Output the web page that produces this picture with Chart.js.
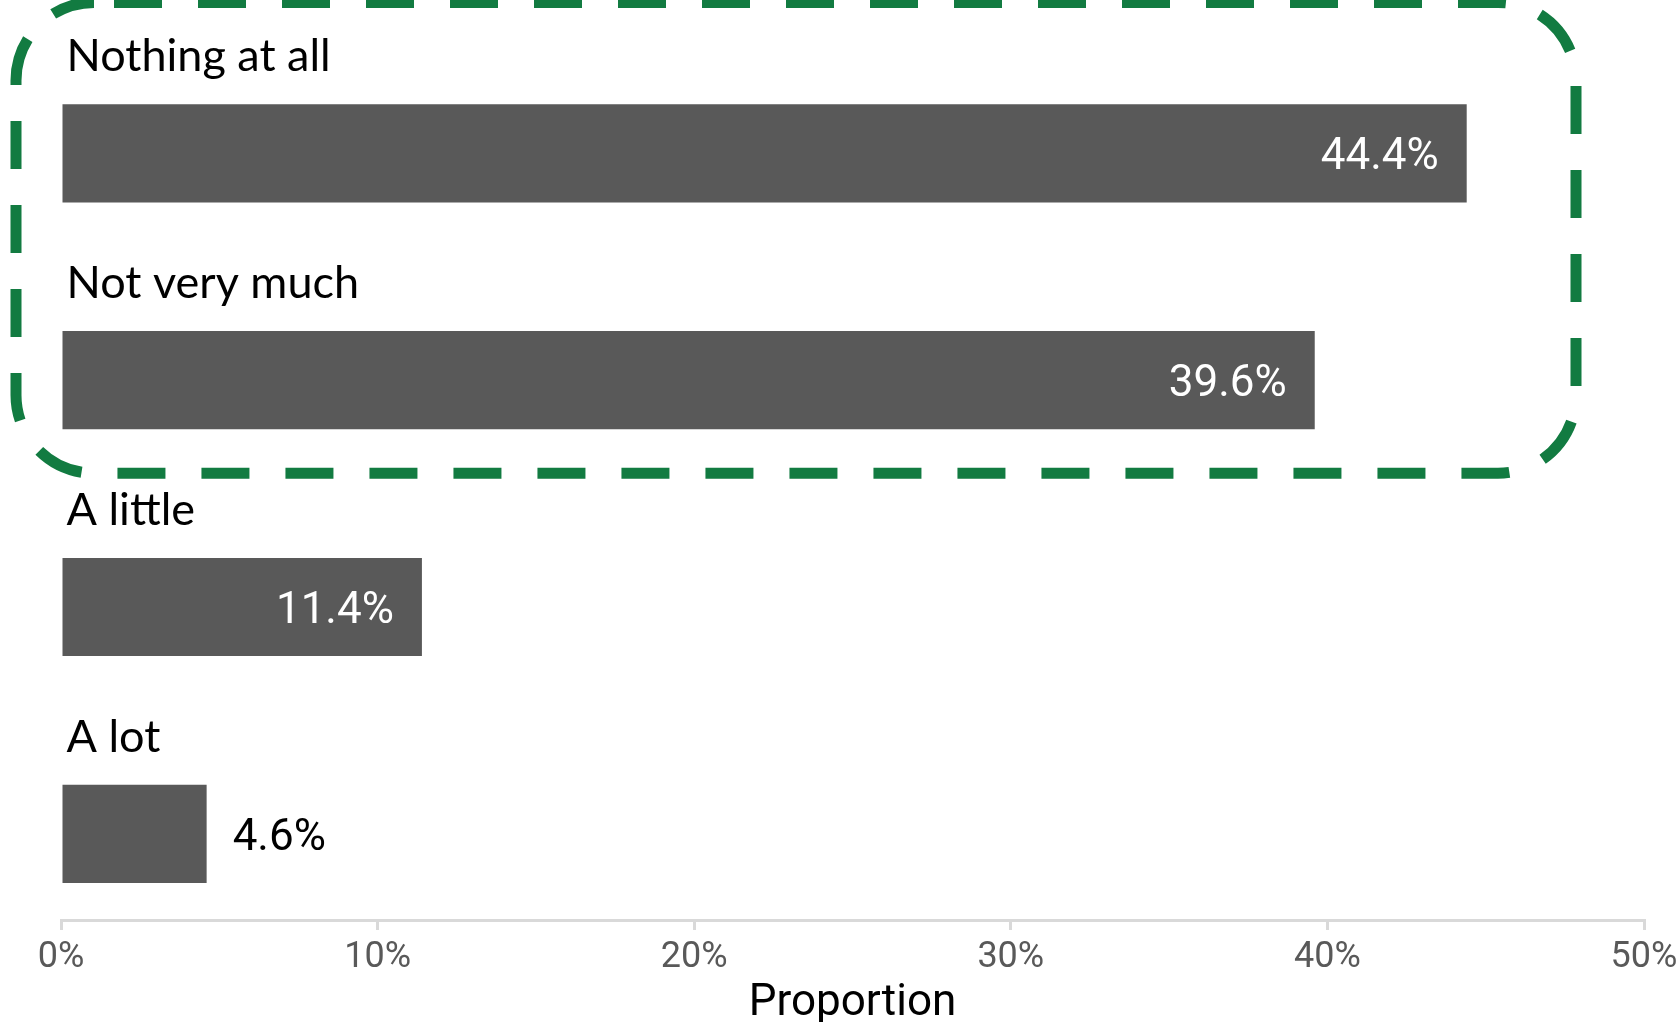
<!DOCTYPE html>
<html>
<head>
<meta charset="utf-8">
<title>Proportion</title>
<script src="https://cdn.jsdelivr.net/npm/chart.js@4"></script>
<style>
  html, body { margin: 0; padding: 0; background: #fff; }
  #wrap { width: 1680px; height: 1022px; position: relative; }
</style>
</head>
<body>
<div id="wrap"><canvas id="chart"></canvas></div>
<script>
"use strict";

// answers, top to bottom, and their share (%)
const CATEGORIAS = ["Nothing at all", "Not very much", "A little", "A lot"];
const VALORES = [44.4, 39.6, 11.4, 4.6];
const TICKS_X = [0, 10, 20, 30, 40, 50];
const TITULO_X = "Proportion";
// the first answers are framed by the green dashed box
const DESTAQUE = 2;

const CINZA = "#595959";
const VERDE = "#127b41";
const EIXO = "#d9d9d9";
const NUM_FONT = "Roboto, 'Liberation Sans', sans-serif";
const CAT_FONT = "Lato, 'Open Sans', sans-serif";

// category name written above each bar
const rotulosCategoria = {
  id: "rotulosCategoria",
  afterDatasetsDraw(chart) {
    const { ctx } = chart;
    const meta = chart.getDatasetMeta(0);
    ctx.save();
    ctx.font = "45px " + CAT_FONT;
    ctx.fillStyle = "#000";
    ctx.textAlign = "left";
    ctx.textBaseline = "alphabetic";
    meta.data.forEach((bar, i) => {
      ctx.fillText(CATEGORIAS[i], bar.base + 4, bar.y - bar.height / 2 - 33);
    });
    ctx.restore();
  },
};

// value labels: inside the bar when it fits, otherwise just after it
const rotulosValor = {
  id: "rotulosValor",
  afterDatasetsDraw(chart) {
    const { ctx } = chart;
    const meta = chart.getDatasetMeta(0);
    ctx.save();
    ctx.font = "44px " + NUM_FONT;
    ctx.textBaseline = "middle";
    meta.data.forEach((bar, i) => {
      const txt = VALORES[i].toFixed(1) + "%";
      const dentro = bar.x - bar.base > 200;
      const y = bar.y + 5;
      if (dentro) {
        ctx.fillStyle = "#fff";
        ctx.textAlign = "right";
        ctx.fillText(txt, bar.x - 28, y);
      } else {
        ctx.fillStyle = "#000";
        ctx.textAlign = "left";
        ctx.fillText(txt, bar.x + 26, y);
      }
    });
    ctx.restore();
  },
};

// rounded dashed frame around the highlighted answers
const moldura = {
  id: "moldura",
  afterDraw(chart) {
    const { ctx, chartArea } = chart;
    const meta = chart.getDatasetMeta(0);
    const primeira = meta.data[0];
    const ultima = meta.data[DESTAQUE - 1];
    const x0 = chartArea.left - 45;
    const x1 = chartArea.right - 68;
    const y0 = primeira.y - 151;
    const y1 = ultima.y + 93;
    ctx.save();
    ctx.strokeStyle = VERDE;
    ctx.lineWidth = 11;
    ctx.setLineDash([48, 36]);
    ctx.lineDashOffset = -20;
    ctx.beginPath();
    ctx.roundRect(x0, y0, x1 - x0, y1 - y0, 78);
    ctx.stroke();
    ctx.restore();
  },
};

new Chart(document.getElementById("chart"), {
  type: "bar",
  data: {
    datasets: [{
      data: VALORES.map((v, i) => ({ x: v, y: i })),
      backgroundColor: CINZA,
      borderWidth: 0,
      categoryPercentage: 1,
      barPercentage: 0.433,
    }],
  },
  options: {
    indexAxis: "y",
    responsive: true,
    maintainAspectRatio: false,
    animation: false,
    layout: { padding: { left: 61, right: 36, top: 40, bottom: 0 } },
    plugins: { legend: { display: false }, tooltip: { enabled: false } },
    scales: {
      y: {
        type: "linear",
        display: false,
        reverse: true,
        offset: false,
        grid: { offset: false },
        min: -0.5,
        max: 3.38,
        afterBuildTicks: (s) => { s.ticks = CATEGORIAS.map((_, i) => ({ value: i })); },
      },
      x: {
        type: "linear",
        min: TICKS_X[0],
        max: TICKS_X[TICKS_X.length - 1],
        afterBuildTicks: (s) => { s.ticks = TICKS_X.map((v) => ({ value: v })); },
        afterFit: (s) => {
          s.height = 102;
          s.paddingLeft = 0;
          s.paddingRight = 0;
        },
        grid: {
          display: true,
          drawOnChartArea: false,
          drawTicks: true,
          tickLength: 10,
          tickColor: EIXO,
          lineWidth: 3,
        },
        border: { display: true, color: EIXO, width: 3 },
        ticks: {
          padding: 6,
          color: CINZA,
          font: { family: NUM_FONT, size: 36 },
          maxRotation: 0,
          callback: (v) => v + "%",
        },
        title: {
          display: true,
          text: TITULO_X,
          color: "#000",
          font: { family: NUM_FONT, size: 44, lineHeight: 1 },
          padding: { top: 0, bottom: -4 },
        },
      },
    },
  },
  plugins: [rotulosCategoria, rotulosValor, moldura],
});
</script>
</body>
</html>
